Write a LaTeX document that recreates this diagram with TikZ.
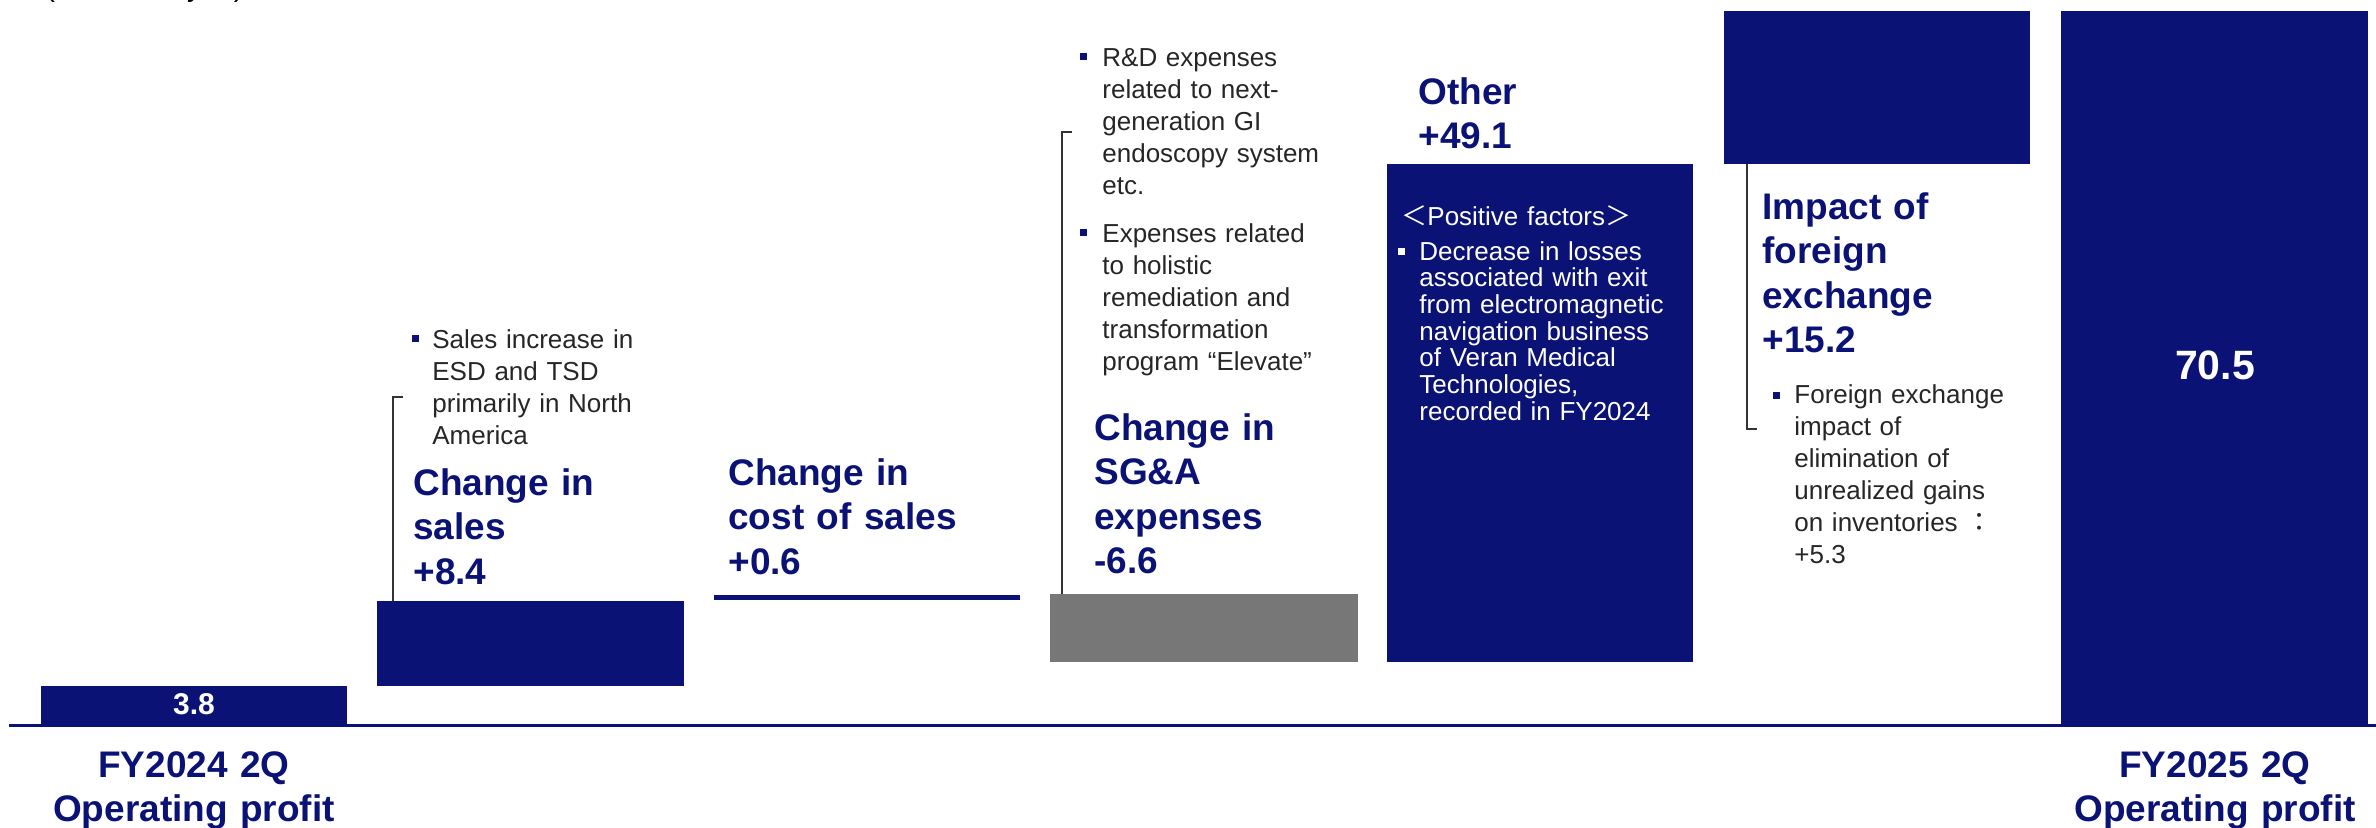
\documentclass[tikz,border=0pt]{standalone}
\usepackage{fontspec}
\setmainfont{Liberation Sans}
\newfontfamily\cjkfont{Noto Sans CJK JP}
\definecolor{navy}{RGB}{11,18,117}
\definecolor{barGray}{RGB}{119,119,119}
\definecolor{txtGray}{RGB}{38,38,38}
\definecolor{brk}{RGB}{51,51,51}
\begin{document}
\begin{tikzpicture}[x=0.5pt,y=-0.5pt,
  note/.style={anchor=base west,inner sep=0pt,text width=160pt,align=left,text=txtGray,font=\fontsize{13}{16}\selectfont},
  boxnote/.style={note,text=white,font=\fontsize{13}{13.35}\selectfont},
  titletext/.style={anchor=base west,inner sep=0pt,text width=170pt,align=left,text=navy,font=\bfseries\fontsize{18.5}{22.25}\selectfont},
  axislabel/.style={anchor=base,inner sep=0pt,text width=200pt,align=center,text=navy,font=\bfseries\fontsize{18.5}{22}\selectfont},
  barvalue/.style={anchor=base,inner sep=0pt,text=white,font=\bfseries\fontsize{15}{18}\selectfont},
  bracketline/.style={draw=brk,line width=1pt},
  bulletsq/.style={fill=navy},
]
\useasboundingbox (0,0) rectangle (2376,827);
% unit label (cut at top)
\node[anchor=base west,inner sep=0pt,font=\fontsize{14.5}{17}\selectfont] (unit) at (45,-4) {(Billions of yen)};
% bars
\fill[navy] (41,686) rectangle (347,724);
\fill[navy] (377,601) rectangle (684,686);
\fill[navy] (714,595) rectangle (1020,600);
\fill[barGray] (1050,594) rectangle (1358,662);
\fill[navy] (1387,164) rectangle (1693,662);
\fill[navy] (1724,11) rectangle (2030,164);
\fill[navy] (2061,11) rectangle (2368,724);
% axis
\fill[navy] (9,724) rectangle (2376,727);
% named bracket ends
\coordinate (b2top) at (393,601);
\coordinate (graytop) at (1062,594);
\coordinate (fxbot) at (1747,164);
% brackets
\draw[bracketline] (403,397) -- (393,397) -- (b2top);
\draw[bracketline] (1072,132) -- (1062,132) -- (graytop);
\draw[bracketline] (fxbot) -- (1747,429) -- (1757,429);
% bullets
\fill[bulletsq] (412,335) rectangle (419,342);
\fill[bulletsq] (1080,53) rectangle (1087,60);
\fill[bulletsq] (1080,229) rectangle (1087,236);
\fill[white] (1398,248) rectangle (1405,255);
\fill[bulletsq] (1773,392) rectangle (1780,399);
% texts
\node[note] (salesnote) at (432,348) {Sales increase in\\ESD and TSD\\primarily in North\\America};
\node[titletext] (salestitle) at (413,495) {Change in\\sales\\+8.4};
\node[titletext] (costtitle) at (728,485) {Change in\\cost of sales\\+0.6};
\node[note] (sgnote1) at (1102,66) {R\&D expenses\\related to next-\\generation GI\\endoscopy system\\etc.};
\node[note] (sgnote2) at (1102,242) {Expenses related\\to holistic\\remediation and\\transformation\\program “Elevate”};
\node[titletext] (sgtitle) at (1094,440) {Change in\\SG\&A\\expenses\\-6.6};
\node[titletext] (othertitle) at (1418,104) {Other\\+49.1};
\node[boxnote] (otherhead) at (1401,225) {{\cjkfont ＜}Positive factors{\cjkfont ＞}};
\node[boxnote] (othernote) at (1419,260) {Decrease in losses\\associated with exit\\from electromagnetic\\navigation business\\of Veran Medical\\Technologies,\\recorded in FY2024};
\node[titletext] (fxtitle) at (1762,219) {Impact of\\foreign\\exchange\\+15.2};
\node[note] (fxnote) at (1794,403) {Foreign exchange\\impact of\\elimination of\\unrealized gains\\on inventories {\cjkfont ：}\\+5.3};
% bar values
\node[barvalue] (v1) at (194,714) {3.8};
\node[barvalue,font=\bfseries\fontsize{20.5}{24}\selectfont] (v2) at (2215,379) {70.5};
% axis labels
\node[axislabel] (lab1) at (194,777) {FY2024 2Q\\Operating profit};
\node[axislabel] (lab2) at (2215,777) {FY2025 2Q\\Operating profit};
\end{tikzpicture}
\end{document}
